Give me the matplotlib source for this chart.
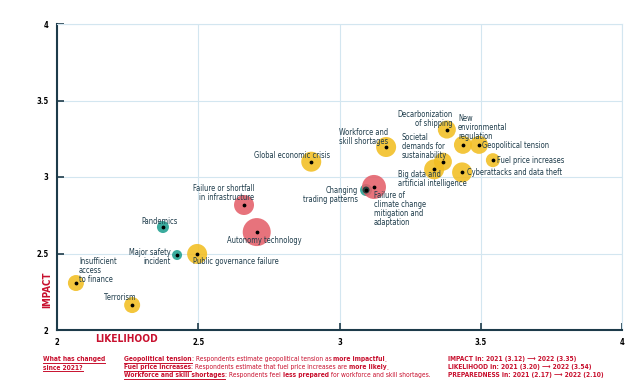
import matplotlib
matplotlib.use('Agg')
import matplotlib.pyplot as plt
from matplotlib.lines import Line2D

FONT = ['DejaVu Sans']
plt.rcParams['font.family'] = FONT
plt.rcParams['font.stretch'] = 'condensed'

# ---------------- data ----------------
risks = ["Global economic crisis", "Workforce and\nskill shortages", "Decarbonization\nof shipping",
         "New\nenvironmental\nregulation", "Geopolitical tension", "Fuel price increases",
         "Cyberattacks and data theft", "Societal\ndemands for\nsustainability",
         "Big data and\nartificial intelligence", "Changing\ntrading patterns",
         "Failure of\nclimate change\nmitigation and\nadaptation",
         "Failure or shortfall\nin infrastructure", "Autonomy technology", "Pandemics",
         "Major safety\nincident", "Public governance failure",
         "Insufficient\naccess\nto finance", "Terrorism"]
likelihood = [2.90, 3.165, 3.38, 3.437, 3.494, 3.543, 3.434, 3.366, 3.335, 3.094, 3.122,
              2.662, 2.707, 2.375, 2.425, 2.496, 2.067, 2.266]
impact = [3.10, 3.196, 3.31, 3.21, 3.21, 3.11, 3.03, 3.10, 3.05, 2.915, 2.935,
          2.817, 2.64, 2.673, 2.49, 2.497, 2.307, 2.163]
bubble = [10, 10, 9, 9, 9, 7, 10, 9, 10, 6, 12, 10, 14, 6, 5, 10, 8, 8]
group = ["y", "y", "y", "y", "y", "y", "y", "y", "y", "t", "r", "r", "r", "t", "t", "y", "y", "y"]

x_ticks = [2, 2.5, 3, 3.5, 4]
y_ticks = [2, 2.5, 3, 3.5, 4]
x_tick_labels = ["2", "2.5", "3", "3.5", "4"]
y_tick_labels = ["2", "2.5", "3", "3.5", "4"]

impact_change = [3.12, 3.35]
likelihood_change = [3.20, 3.54]
preparedness_change = [2.17, 2.10]

# ---------------- style ----------------
COLORS = {"y": "#F2BE22", "r": "#E4606A", "t": "#20A090"}
TXT = "#1D3B4A"
RED = "#C8102E"
GRID = "#D3E6F0"

label_style = [
    (-19, 6, "center"), (-47, 10, "left"), (6, 11, "right"), (-5, 17, "left"),
    (3, -1, "left"), (4, 0, "left"), (5, 0, "left"), (-41, 15, "left"),
    (-36, -10, "left"), (-8, -5, "right"), (0, -22, "left"), (10, 12, "right"),
    (8, -8, "center"), (-3, 6, "center"), (-6, -1.5, "right"), (-4, -8, "left"),
    (3, 13, "left"), (-12, 8, "center"),
]

fig = plt.figure(figsize=(6.4, 3.84), dpi=100)
ax = fig.add_axes([57 / 640, 1 - 330 / 384, (622 - 57) / 640, (330 - 24) / 384])
ax.set_xlim(2, 4)
ax.set_ylim(2, 4)

sizes = [(2 * r * 0.72) ** 2 for r in bubble]
ax.scatter(likelihood, impact, s=sizes, c=[COLORS[g] for g in group], alpha=0.88,
           edgecolors="none", zorder=3)
ax.scatter([likelihood[9]], [impact[9]], s=(2 * 3.5 * 0.72) ** 2, c="#0F3B35", alpha=0.85,
           edgecolors="none", zorder=4)
ax.scatter(likelihood, impact, s=3, c="black", zorder=5)

for i, name in enumerate(risks):
    dx, dy, ha = label_style[i]
    ax.annotate(name, (likelihood[i], impact[i]), xytext=(dx, dy), textcoords="offset pixels",
                ha=ha, va="center", fontsize=5.45, color=TXT, linespacing=1.0, zorder=6,
                multialignment=ha if ha != "center" else "center")

ax.set_xticks(x_ticks)
ax.set_yticks(y_ticks)
ax.set_xticklabels(x_tick_labels)
ax.set_yticklabels(y_tick_labels)
ax.tick_params(direction="in", length=5, width=1.2, color=TXT, labelsize=5.5,
               labelcolor="black", pad=6)
for lab in ax.get_xticklabels() + ax.get_yticklabels():
    lab.set_fontweight("bold")
ax.grid(True, color=GRID, lw=0.8, zorder=0)
ax.set_axisbelow(True)
for s in ["top", "right"]:
    ax.spines[s].set_color(GRID)
    ax.spines[s].set_linewidth(0.8)
for s in ["left", "bottom"]:
    ax.spines[s].set_color(TXT)
    ax.spines[s].set_linewidth(1.5)

fig.text(47 / 640, 1 - 290 / 384, "IMPACT", rotation=90, ha="center", va="center",
         color=RED, fontsize=7, fontweight="bold", family=FONT)
fig.text(127 / 640, 1 - 339 / 384, "LIKELIHOOD", ha="center", va="center",
         color=RED, fontsize=7.3, fontweight="bold", family=FONT)

fig.canvas.draw()
renderer = fig.canvas.get_renderer()
H = 384


def seg_line(x0, y_base, segments, size=4.8):
    x = x0
    for txt, bold, under in segments:
        t = fig.text(x / 640, 1 - y_base / H, txt, ha="left", va="baseline", color=RED,
                     fontsize=size, fontweight="bold" if bold else "normal", family=FONT)
        bb = t.get_window_extent(renderer)
        if under and txt.strip():
            fig.add_artist(Line2D([bb.x0 / 640, bb.x1 / 640], [1 - (y_base + 1.5) / H] * 2,
                                  color=RED, lw=0.7))
        x = bb.x1


seg_line(43, 361.5, [("What has changed", True, True)], size=4.75)
seg_line(43, 369.5, [("since 2021?", True, True)], size=4.75)

seg_line(124, 361.5, [("Geopolitical tension", True, True),
                      (": Respondents estimate geopolitical tension as ", False, False),
                      ("more impactful", True, False), (".", False, False)])
seg_line(124, 369.5, [("Fuel price increases", True, True),
                      (": Respondents estimate that fuel price increases are ", False, False),
                      ("more likely", True, False), (".", False, False)])
seg_line(124, 377.5, [("Workforce and skill shortages", True, True),
                      (": Respondents feel ", False, False),
                      ("less prepared", True, False),
                      (" for workforce and skill shortages.", False, False)])

seg_line(448, 361.5, [(f"IMPACT in: 2021 ({impact_change[0]:.2f}) \u27f6 2022 ({impact_change[1]:.2f})",
                       True, False)], size=4.75)
seg_line(448, 369.5, [(f"LIKELIHOOD in: 2021 ({likelihood_change[0]:.2f}) \u27f6 2022 ({likelihood_change[1]:.2f})",
                       True, False)], size=4.75)
seg_line(448, 377.5, [(f"PREPAREDNESS in: 2021 ({preparedness_change[0]:.2f}) \u27f6 2022 ({preparedness_change[1]:.2f})",
                       True, False)], size=4.75)

fig.savefig("out.png", dpi=100)
